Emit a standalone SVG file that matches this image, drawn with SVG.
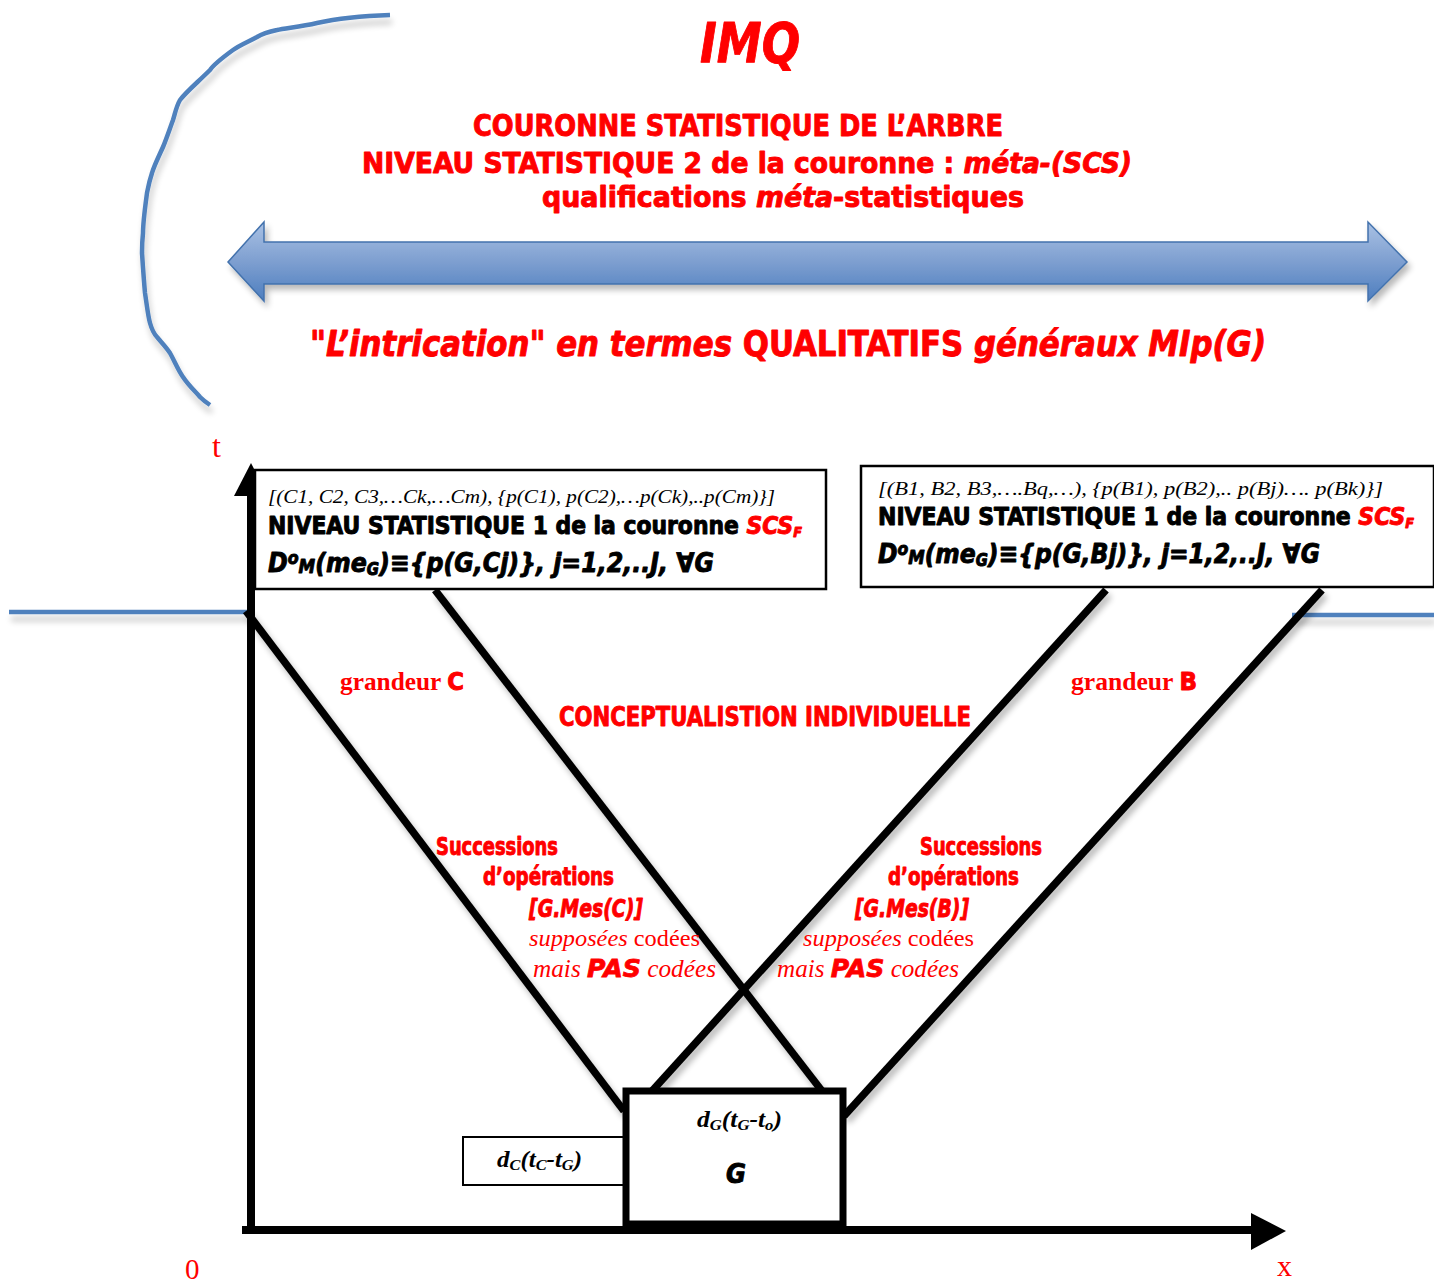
<svg xmlns="http://www.w3.org/2000/svg" width="1434" height="1284" viewBox="0 0 1434 1284">
<defs>
  <linearGradient id="arrowGrad" x1="0" y1="0" x2="0" y2="1">
    <stop offset="0" stop-color="#a9c1e4"/>
    <stop offset="0.5" stop-color="#7e9fd0"/>
    <stop offset="1" stop-color="#4d7ebf"/>
  </linearGradient>
  <filter id="shadow" x="-10%" y="-10%" width="130%" height="130%">
    <feGaussianBlur in="SourceAlpha" stdDeviation="3"/>
    <feOffset dx="3" dy="5" result="b"/>
    <feComponentTransfer><feFuncA type="linear" slope="0.28"/></feComponentTransfer>
    <feMerge><feMergeNode/><feMergeNode in="SourceGraphic"/></feMerge>
  </filter>
  <filter id="shadowBlue" x="-5%" y="-100%" width="110%" height="400%">
    <feGaussianBlur in="SourceAlpha" stdDeviation="3"/>
    <feOffset dx="2" dy="7" result="b"/>
    <feComponentTransfer><feFuncA type="linear" slope="0.22"/></feComponentTransfer>
    <feMerge><feMergeNode/><feMergeNode in="SourceGraphic"/></feMerge>
  </filter>
</defs>
<style>
  .heavy { font-family: "DejaVu Sans Condensed", "DejaVu Sans", "Liberation Sans Narrow", sans-serif; font-weight: bold; stroke-width: 0.9; stroke-linejoin: round; }
  .red { fill: #ff0000; }
  .heavy.red { stroke: #ff0000; }
  .blk { fill: #000000; }
  .heavy.blk { stroke: #000000; }
  .it { font-style: italic; }
  .serif { font-family: "Liberation Serif", "DejaVu Serif", serif; }
  .line { stroke: #000; stroke-width: 7.5; fill: none; }
  .blue { stroke: #4f81bd; stroke-width: 4.5; fill: none; stroke-linecap: butt; stroke-linejoin: round; }
  .box { fill: #fff; stroke: #000; }
</style>
<rect width="1434" height="1284" fill="#fff"/>

<!-- decorative blue curve and horizontal lines -->
<g id="decor" filter="url(#shadowBlue)">
  <path class="blue" d="M390,15 C360,16 335,19 317,23 C300,27 285,28 277,30 C268,32 262,34 257,37 C248,42 240,45 233,50 C222,58 214,64 210,70 C198,82 186,92 180,100 C176,107 175,114 173,120 C169,131 166,140 163,147 C158,158 154,166 152,173 C149,182 148,188 147,193 C145,208 143,222 143,233 C142,242 142,248 142,253 C143,268 144,282 145,293 C147,306 148,316 150,323 C152,330 154,334 157,337 C162,343 166,347 170,353 C175,362 178,370 183,377 C189,386 195,391 200,397 C204,401 207,403 210,405"/>
  <line class="blue" x1="9" y1="612" x2="247" y2="612"/>
  <line class="blue" x1="1292" y1="615" x2="1434" y2="615"/>
</g>

<!-- title texts -->
<g id="title">
  <text x="700" y="62" class="heavy red it" font-size="56" stroke-width="1.5" textLength="100" lengthAdjust="spacingAndGlyphs">IMQ</text>
  <text x="473" y="136" class="heavy red" font-size="30" stroke-width="1.1" textLength="530" lengthAdjust="spacingAndGlyphs">COURONNE STATISTIQUE DE L’ARBRE</text>
  <text x="362" y="173" class="heavy red" font-size="29" stroke-width="1.1" textLength="770" lengthAdjust="spacingAndGlyphs">NIVEAU STATISTIQUE 2 de la couronne : <tspan class="it">méta-(SCS)</tspan></text>
  <text x="542" y="207" class="heavy red" font-size="29" stroke-width="1.1" textLength="482" lengthAdjust="spacingAndGlyphs">qualifications <tspan class="it">méta</tspan>-statistiques</text>
</g>

<!-- big double arrow -->
<g id="bigArrow" filter="url(#shadow)">
  <path d="M228,262 L264,222 L264,242 L1368,242 L1368,222 L1407,262 L1368,301 L1368,284 L264,284 L264,301 Z" fill="url(#arrowGrad)" stroke="#4372ad" stroke-width="1.5"/>
</g>
<g id="intrication">
  <text x="310" y="356" class="heavy red" font-size="36" stroke-width="1.1" textLength="956" lengthAdjust="spacingAndGlyphs"><tspan class="it">"L’intrication" en termes </tspan>QUALITATIFS<tspan class="it"> généraux MIp(G)</tspan></text>
</g>

<!-- connectors -->
<g id="connectors" filter="url(#shadow)">
  <line class="line" x1="246" y1="611" x2="624" y2="1111"/>
  <line class="line" x1="435" y1="590" x2="822" y2="1091"/>
  <line class="line" x1="1106" y1="590" x2="652" y2="1091"/>
  <line class="line" x1="1322" y1="590" x2="844" y2="1116"/>
</g>

<!-- axes -->
<g id="axes">
  <line x1="251" y1="1234" x2="251" y2="494" stroke="#000" stroke-width="8"/>
  <polygon points="251,463 268,496 234,496" fill="#000"/>
  <line x1="242" y1="1230" x2="1252" y2="1230" stroke="#000" stroke-width="8"/>
  <polygon points="1286,1231 1251,1213 1251,1250" fill="#000"/>
  <text x="212" y="457" class="serif red" font-size="32">t</text>
  <text x="185" y="1279" class="serif red" font-size="29">0</text>
  <text x="1277" y="1276" class="serif red" font-size="30">x</text>
</g>

<!-- left box C -->
<g id="boxC">
  <rect class="box" x="255" y="470" width="571" height="119" stroke-width="2.5"/>
  <text x="268" y="503" class="serif blk it" font-size="19" textLength="507" lengthAdjust="spacingAndGlyphs">[(C1, C2, C3,…Ck,…Cm),  {p(C1), p(C2),…p(Ck),..p(Cm)}]</text>
  <text x="268" y="534" class="heavy blk" font-size="24" textLength="534" lengthAdjust="spacingAndGlyphs">NIVEAU STATISTIQUE 1 de la couronne <tspan class="red it" stroke="#ff0000">SCS</tspan><tspan class="red it" stroke="#ff0000" font-size="14" dy="3">F</tspan></text>
  <text x="268" y="572" class="heavy blk it" font-size="27" textLength="446" lengthAdjust="spacingAndGlyphs">D<tspan font-size="18" dy="-8">o</tspan><tspan font-size="19" dy="9">M</tspan><tspan dy="-1">(me</tspan><tspan font-size="17" dy="3">G</tspan><tspan dy="-3">)≡{p(G,Cj)}, j=1,2,..J,  ∀G</tspan></text>
</g>

<!-- right box B -->
<g id="boxB">
  <rect class="box" x="861" y="466" width="573" height="121" stroke-width="2.5"/>
  <text x="878" y="495" class="serif blk it" font-size="19" textLength="505" lengthAdjust="spacingAndGlyphs">[(B1, B2, B3,….Bq,…),    {p(B1), p(B2),.. p(Bj)…. p(Bk)}]</text>
  <text x="878" y="525" class="heavy blk" font-size="24" textLength="536" lengthAdjust="spacingAndGlyphs">NIVEAU STATISTIQUE 1 de la couronne <tspan class="red it" stroke="#ff0000">SCS</tspan><tspan class="red it" stroke="#ff0000" font-size="14" dy="3">F</tspan></text>
  <text x="878" y="563" class="heavy blk it" font-size="27" textLength="442" lengthAdjust="spacingAndGlyphs">D<tspan font-size="18" dy="-8">o</tspan><tspan font-size="19" dy="9">M</tspan><tspan dy="-1">(me</tspan><tspan font-size="17" dy="3">G</tspan><tspan dy="-3">)≡{p(G,Bj)}, j=1,2,..J, ∀G</tspan></text>
</g>

<!-- labels between lines -->
<g id="labels">
  <text x="340" y="690" class="serif red" font-weight="bold" font-size="25" textLength="124" lengthAdjust="spacingAndGlyphs">grandeur <tspan class="heavy" stroke="#ff0000">C</tspan></text>
  <text x="1071" y="690" class="serif red" font-weight="bold" font-size="25" textLength="126" lengthAdjust="spacingAndGlyphs">grandeur <tspan class="heavy" stroke="#ff0000">B</tspan></text>
  <text x="559" y="726" class="heavy red" font-size="26" textLength="412" lengthAdjust="spacingAndGlyphs">CONCEPTUALISTION INDIVIDUELLE</text>
</g>

<g id="successionsC">
  <text x="436" y="855" class="heavy red" font-size="24" textLength="122" lengthAdjust="spacingAndGlyphs">Successions</text>
  <text x="483" y="885" class="heavy red" font-size="24" textLength="131" lengthAdjust="spacingAndGlyphs">d’opérations</text>
  <text x="529" y="917" class="heavy red it" font-size="25" textLength="114" lengthAdjust="spacingAndGlyphs">[G.Mes(C)]</text>
  <text x="529" y="946" class="serif red" font-size="24" textLength="171" lengthAdjust="spacingAndGlyphs"><tspan class="it">supposées</tspan> codées</text>
  <text x="533" y="977" class="serif red it" font-size="25" textLength="183" lengthAdjust="spacingAndGlyphs">mais <tspan font-family="DejaVu Sans, sans-serif" font-weight="900" stroke="#ff0000" stroke-width="0.8">PAS</tspan> codées</text>
</g>

<g id="successionsB">
  <text x="920" y="855" class="heavy red" font-size="24" textLength="122" lengthAdjust="spacingAndGlyphs">Successions</text>
  <text x="888" y="885" class="heavy red" font-size="24" textLength="131" lengthAdjust="spacingAndGlyphs">d’opérations</text>
  <text x="855" y="917" class="heavy red it" font-size="25" textLength="114" lengthAdjust="spacingAndGlyphs">[G.Mes(B)]</text>
  <text x="803" y="946" class="serif red" font-size="24" textLength="171" lengthAdjust="spacingAndGlyphs"><tspan class="it">supposées</tspan> codées</text>
  <text x="777" y="977" class="serif red it" font-size="25" textLength="182" lengthAdjust="spacingAndGlyphs">mais <tspan font-family="DejaVu Sans, sans-serif" font-weight="900" stroke="#ff0000" stroke-width="0.8">PAS</tspan> codées</text>
</g>

<!-- dC box -->
<g id="boxDC">
  <rect class="box" x="463" y="1137" width="162" height="48" stroke-width="2"/>
  <text x="497" y="1167" class="serif blk it" font-weight="bold" font-size="23" textLength="85" lengthAdjust="spacingAndGlyphs">d<tspan font-size="15" dy="3">C</tspan><tspan dy="-3">(t</tspan><tspan font-size="15" dy="3">C</tspan><tspan dy="-3">-t</tspan><tspan font-size="15" dy="3">G</tspan><tspan dy="-3">)</tspan></text>
</g>

<!-- G box -->
<g id="boxG">
  <rect class="box" x="626" y="1091" width="217" height="133" stroke-width="7"/>
  <text x="697" y="1127" class="serif blk it" font-weight="bold" font-size="23" textLength="85" lengthAdjust="spacingAndGlyphs">d<tspan font-size="15" dy="3">G</tspan><tspan dy="-3">(t</tspan><tspan font-size="15" dy="3">G</tspan><tspan dy="-3">-t</tspan><tspan font-size="15" dy="3">o</tspan><tspan dy="-3">)</tspan></text>
  <text x="726" y="1183" class="heavy blk it" font-size="27" stroke-width="1.2">G</text>
</g>
</svg>
